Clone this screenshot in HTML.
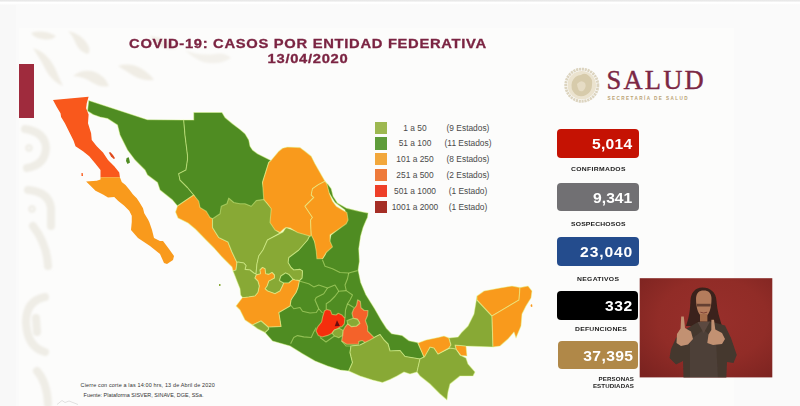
<!DOCTYPE html>
<html lang="es"><head><meta charset="utf-8"><title>COVID-19: Casos por entidad federativa</title>
<style>
html,body{margin:0;padding:0}
body{width:800px;height:406px;overflow:hidden;background:#f8f8f8;position:relative;font-family:"Liberation Sans",sans-serif}
.topband{position:absolute;left:0;top:0;width:800px;height:5px;background:linear-gradient(#e6e6e6 0,#ececec 1.2px,#ffffff 2.2px,#ffffff 3.2px,#f9f9f9 5px)}
.page{position:absolute;left:16px;top:0;width:784px;height:406px;background:#fafafa}
.slide{position:absolute;left:19px;top:28px;width:715px;height:378px;background:#fcfcfb}
.bar{position:absolute;left:19px;top:64px;width:15px;height:54px;background:#9f2b3d}
.title{position:absolute;left:100px;top:36.5px;width:416px;text-align:center;color:#7b2442;font-weight:bold;font-size:12.5px;line-height:15.7px;letter-spacing:0.59px;white-space:nowrap;transform:scaleX(1.18);transform-origin:208px 0;-webkit-text-stroke:0.3px #7b2442}
.sw{position:absolute;left:375px;width:12.2px;height:12.2px}
.lt{position:absolute;font-size:8.4px;line-height:12px;color:#4a4a4a;white-space:nowrap}
.foot{position:absolute;font-size:5.45px;line-height:7px;color:#333;white-space:nowrap}
.box{position:absolute;left:556.6px;width:82.8px;height:28.4px;border-radius:4px;color:#fff;font-weight:bold;font-size:14.5px;line-height:30.4px;text-align:right;box-sizing:border-box;padding-right:7px;letter-spacing:0.55px}
.box span{display:inline-block;transform:scaleX(1.08);transform-origin:100% 50%}
.lab{transform:scaleX(1.1);transform-origin:0 0;position:absolute;font-weight:bold;font-size:6.2px;line-height:7px;color:#222;white-space:nowrap;letter-spacing:0.2px}
.salud{position:absolute;left:606.5px;top:65.2px;font-family:"Liberation Serif",serif;font-size:26.5px;line-height:30px;color:#7b2744;letter-spacing:2.2px;white-space:nowrap;-webkit-text-stroke:0.4px #7b2744}
.sec{position:absolute;left:607.5px;top:94.8px;font-size:4.6px;line-height:7px;font-weight:bold;color:#b9a273;letter-spacing:1.44px;white-space:nowrap}
svg{position:absolute;left:0;top:0}
</style></head><body>
<div class="page"></div>
<div class="topband"></div>
<div class="slide"></div>
<svg width="800" height="406" viewBox="0 0 800 406">
<defs><filter id="wb" x="-20%" y="-20%" width="140%" height="140%"><feGaussianBlur stdDeviation="0.8"/></filter><filter id="mb" x="-2%" y="-2%" width="104%" height="104%"><feGaussianBlur stdDeviation="0.35"/></filter></defs>
<g id="wm" fill="none" stroke="#efede6" stroke-width="8" stroke-linecap="round" stroke-linejoin="round" filter="url(#wb)">
<path d="M25,129 Q45,132 46,148 Q45,165 27,168"/><circle cx="29" cy="148" r="1.2" stroke-width="5"/>
<path d="M28,190 Q49,192 51,208 L51,226"/><circle cx="32" cy="209" r="1.2" stroke-width="5"/>
<path d="M33,226 Q47,244 48,266"/>
<path d="M45,297 Q26,301 26,322 Q27,347 45,352"/><path d="M36,318 L37,332" stroke-width="8"/>
<path d="M37,371 Q47,382 48,404"/>
</g>
<g fill="#f0ede5" stroke="none" filter="url(#wb)">
<path d="M31,33 q12,-4 25,3 q-4,5 -14,3 q-8,-1 -11,-6z"/>
<path d="M68,31 q14,3 20,14 q3,6 0,9 q-8,-2 -12,-10 q-3,-8 -8,-13z"/>
<path d="M33,48 q14,4 22,20 q5,12 8,18 q-10,-4 -16,-14 q-6,-12 -14,-24z"/>
<path d="M73,76 q10,-8 22,-4 q10,4 14,14 q-8,2 -16,-3 q-8,-6 -20,-7z"/>
<path d="M118,66 q12,-4 24,3 q8,5 12,11 q-12,1 -20,-4 q-8,-5 -16,-10z"/>
<path d="M150,36 q16,2 28,12 q-10,3 -18,-2 q-6,-4 -10,-10z"/>
<path d="M185,50 q14,6 30,4 q10,-2 16,4 q-12,8 -28,4 q-10,-4 -18,-12z" opacity="0.7"/>
</g>
<path d="M57,404.5 L62,400.5 L65,402.5 L69,401 L78,404.5" fill="none" stroke="#c4c4c4" stroke-width="0.5"/>
<g filter="url(#mb)">
<polygon points="325,181.5 326.9,183.5 328.1,184.4 331.25,188.75 333.1,196.25 337.5,203.1 346.25,208.1 356.25,210.6 362.5,211.9 368.1,213.1 367.5,217.5 366.25,220 363.1,227.5 360.6,236.25 358.75,248.75 359.4,261.25 358.1,270 360.7,282.6 365.9,294.7 374.5,308.4 381.4,320.5 386.6,328.6 391.7,333.8 402.1,335.5 409,340.7 417.6,342.6 421,350 424,357 420,359 405,356.5 400,350.5 390,351 388,344 384,340 380,334.5 376,336.5 370,340 365,342.5 360,345 351,346 350,352.5 352.5,362.5 348.75,371 340,370 327.5,366 315,361 302.5,353.75 290,346 272.5,341 265,332.5 268.75,328.75 268,327 281,326.5 278.75,312.5 290,306 291,300 292.5,297.5 296,292.5 298,287.5 299.4,280.6 302,278 302.5,271 300,269.4 293.75,270 291,267.5 288,262.5 288.75,257.5 293.75,253.75 298.75,250 307.5,240 310,235 312.5,235 316,245 318.75,256 322.5,258.75 325,255 328.75,245 331,235 340,227.5 346,220 345,210 335,202.5 328.75,192.5" fill="#4F8C20" stroke="rgba(228,255,150,0.45)" stroke-width="1.1" stroke-linejoin="round"/>
<polygon points="88.75,100.5 147.5,119.7 183.75,120 185,135 187.5,155 187.5,160 186,170 178.75,173.75 180,180 187.5,187.5 193.75,195 177.5,206 172.5,200 160,190 157.5,182.5 147.5,175 145,170 135,160 127.5,150 120,135 117.5,125 107.5,118.5 100,117 93,114.5 87.5,111" fill="#4F8C20" stroke="rgba(228,255,150,0.45)" stroke-width="1.1" stroke-linejoin="round"/>
<polygon points="183.75,120 193.75,120 193.75,112.5 222,112.5 225,117.5 232.5,123.75 240,129.4 245,133.75 248.75,140 250,146.25 252.5,150 257.5,153.75 271,160.5 268.75,162.5 262.5,182.5 266,200 266,206 258,207 250,210 240,210 233,208 228,206 222,213 214,221 207,216 200,208 193.75,195 187.5,187.5 180,180 178.75,173.75 186,170 187.5,160 187.5,155 185,135" fill="#4F8C20" stroke="rgba(228,255,150,0.45)" stroke-width="1.1" stroke-linejoin="round"/>
<polygon points="53,100 88.6,96.75 86.75,103.25 86.1,108.25 88.6,114.5 88,123.25 91.1,133.25 91.75,140 96.75,146.25 103,152.5 108,160 114.25,166.25 119.25,172.5 119.9,177.25 100.5,177.25 100.5,170 95.5,163.75 89.25,156.25 83,151.25 75.5,146.25 73.6,140.75 70.5,134.5 68,129.5 64.9,123.25 61.1,117 60.5,113.25 56.75,107" fill="#F9581A" stroke="none" stroke-width="1.1" stroke-linejoin="round"/>
<polygon points="108.8,152.5 110.5,152.3 113,155 115,158.3 113.8,159 111,156.5" fill="#E0481A" stroke="none" stroke-width="1.1" stroke-linejoin="round"/>
<polygon points="81.5,173 82.7,173 83,176 81.5,176" fill="#F9581A" stroke="none" stroke-width="1.1" stroke-linejoin="round"/>
<polygon points="126.6,158 128.8,157.2 130,162.5 127.5,164 126,161" fill="#4F8C20" stroke="none" stroke-width="1.1" stroke-linejoin="round"/>
<polygon points="100.5,177.25 119.9,177.25 121.75,182 125.5,185.1 129.25,189.5 133,194.5 136.75,198.25 139.25,202 143,208.25 144.25,213.25 148,219.5 149.25,222 152,230 154,238 160,241 163,241 169,249 174,256 173,260 167,264 164,263 160,254 150,246 138,238 131,230 131.75,222 131.75,215.75 129.25,210.75 124.25,205.75 118,200.75 114.25,197 108,197.6 103,194.5 95.5,190.75 90.5,185.75 86.1,181.4 96.75,180.75 100.5,179.5" fill="#F99A1B" stroke="none" stroke-width="1.1" stroke-linejoin="round"/>
<polygon points="177.5,206 193.75,195 198.75,201.25 200,207.5 206.25,211.25 210,217.5 212.5,218.75 212.5,227.5 218.75,237.5 228,242 232,252 237,262.5 236,270 233,271 232,267 222,257 214,248 204.5,238.5 195.5,229.25 188,223 178,218 175.5,212" fill="#F99A1B" stroke="rgba(228,255,150,0.45)" stroke-width="1.1" stroke-linejoin="round"/>
<polygon points="228.75,198.1 233.75,202.5 240,203.75 245,203.75 251.25,206.25 256.25,200.6 263.75,199.4 267.5,203.75 272,208.75 271,222.5 276,230 280,233 283.75,231 267.5,240 263,250 258.75,256 257,263.75 256,274 253.75,273 250,270 245,269.4 246,265.6 243.75,263 238,262 237,262.5 232,252 228,242 218.75,237.5 212.5,227.5 212.5,218.75 220,213.75 221.25,206.25 226.9,203.75" fill="#88A936" stroke="rgba(228,255,150,0.45)" stroke-width="1.1" stroke-linejoin="round"/>
<polygon points="283,232 286,227.5 300,232.5 310,235 307.5,240 298.75,250 293.75,253.75 288.75,257.5 288,262.5 291,267.5 293.75,270 300,269.4 302.5,271 302,278 299.4,280.6 295,280 293,279.4 288.75,274.4 285.6,273 281,276 279.4,280.6 283.75,283 282.5,286 280,291 275,293.75 267.5,291 265,288.75 267,286 268.75,281 274.4,278 274.4,275 272,272.5 268.75,274.4 265.6,273.75 265,268.75 262.5,267.5 260,270 260.6,273.75 256.25,275 256,274 257,263.75 258.75,256 263,250 267.5,240" fill="#88A936" stroke="rgba(228,255,150,0.45)" stroke-width="1.1" stroke-linejoin="round"/>
<polygon points="279.4,280.6 281,276 285.6,273 288.75,274.4 293,279.4 288.75,283 283.75,283" fill="#4F8C20" stroke="rgba(228,255,150,0.45)" stroke-width="1.1" stroke-linejoin="round"/>
<polygon points="271,160.5 278.75,151.25 282.5,148.3 287.5,147 300,147.6 305,151.25 311.25,156.25 315,163.75 320,172.5 325,181.25 318.75,184.4 312.5,188.75 311.25,195 313.75,197.5 305,206.25 312.5,217.5 310.6,220 311.25,235 310.6,236.25 297.5,232.5 290,228 286,227.5 283.75,229 280,232.5 275,230 270,222.5 271.25,208.75 267.5,203.75 263.75,199.4 262.5,182.5 268.75,162.5" fill="#F99A1B" stroke="rgba(228,255,150,0.45)" stroke-width="1.1" stroke-linejoin="round"/>
<polygon points="325,181.25 326.9,184 329.4,193.75 332.5,201.25 336.25,206.25 342.5,210 346.9,212.5 348.1,220 346.25,223.75 337.5,230 330,235 330,241.25 332.5,246.9 326.25,252.5 322.5,258.75 316.9,258.75 316.25,251.25 314.4,241.25 311.25,235 310.6,220 312.5,217.5 305,206.25 313.75,197.5 311.25,195 312.5,188.75 318.75,184.4" fill="#F99A1B" stroke="rgba(228,255,150,0.45)" stroke-width="1.1" stroke-linejoin="round"/>
<polygon points="233,271 236,270 237,262.5 238,262 243.75,263 246,265.6 245,269.4 250,270 253.75,273 256,274 256.25,275 255,278 258,281 259.4,286 258,292.5 255,296 248.75,297 245,297.5 242.5,297.5 240.6,295 240,288.75 237.5,282.5 235,276" fill="#88A936" stroke="rgba(228,255,150,0.45)" stroke-width="1.1" stroke-linejoin="round"/>
<polygon points="262.5,267.5 265,268.75 265.6,273.75 268.75,274.4 272,272.5 274.4,275 274.4,278 268.75,281 267,286 265,288.75 267.5,291 275,293.75 280,291 282.5,286 283.75,283 288.75,283 293,279.4 295,280 299.4,280.6 298,287.5 296,292.5 292.5,297.5 291,300 290,306 278.75,312.5 281,326.5 268,327 261,321 252.5,325 245,320 240,310 236,306 242.5,297.5 245,297.5 248.75,297 255,296 258,292.5 259.4,286 258,281 255,278 256.25,275 260.6,273.75 260,270" fill="#F99A1B" stroke="rgba(228,255,150,0.45)" stroke-width="1.1" stroke-linejoin="round"/>
<polygon points="252.5,325 261,321 268,327 268.75,329 265,332.5 257.5,328.75" fill="#88A936" stroke="rgba(228,255,150,0.45)" stroke-width="1.1" stroke-linejoin="round"/>
<polygon points="326.6,309.4 330.5,310.5 332,314.4 336,315 338.2,313.3 342,315 344.9,318.3 344.3,323.8 342,326.6 340,327 337.7,328.8 334.4,330 332,333.2 327.7,335.4 322,337 318.3,335.4 316,331 317.8,326.6 321.6,322 322.7,316.6 324.4,311" fill="#F52D0A" stroke="rgba(228,255,150,0.45)" stroke-width="1.1" stroke-linejoin="round"/>
<polygon points="337,320.2 339.9,326 334.7,326.2" fill="#6B0F0A" stroke="none" stroke-width="1.1" stroke-linejoin="round"/>
<polygon points="334.4,330 339.3,328.2 343.2,330.5 342.7,335.4 338.8,337.7 334.4,336 332,333.2" fill="#88A936" stroke="rgba(228,255,150,0.45)" stroke-width="1.1" stroke-linejoin="round"/>
<polygon points="357.6,299.8 360.4,301.5 361,307.8 364.3,310.5 368,310.5 367.6,315.5 365.4,320.5 367.6,326.6 367.6,331 374.2,337.7 372,341 365.4,342.6 362,340.4 358.7,341.5 358.7,344.3 346.5,344.3 341.6,341 342.7,335.4 343.2,330.5 345.4,326.6 347.7,323.8 351.5,326.6 356.5,326 359.8,323.3 357.6,319.4 353.2,318.3 352,313.3 353.7,308.9 356.5,305.5" fill="#F4622A" stroke="rgba(228,255,150,0.45)" stroke-width="1.1" stroke-linejoin="round"/>
<polygon points="347,320.5 353.2,318.3 357.6,319.4 359.8,323.3 356.5,326 351.5,326.6 347.7,323.8" fill="#88A936" stroke="rgba(228,255,150,0.45)" stroke-width="1.1" stroke-linejoin="round"/>
<polygon points="351,346 360,345 365,342.5 370,340 376,336.5 380,334.5 384,340 388,344 390,351 400,350.5 405,356.5 420,359 417,372 410,374 404,372 397,376 390,379.5 382.5,382.5 372.5,380 360,376 348.75,371 352.5,362.5 350,352.5" fill="#88A936" stroke="rgba(228,255,150,0.45)" stroke-width="1.1" stroke-linejoin="round"/>
<polygon points="420,359 424,357 430,347 434,348 438,354 450,348 456,349 460,355 466,358 468,364 475,372 473,376 460,376 450,384 448,392 447,400 440,394 430,384 420,376 417,372" fill="#88A936" stroke="rgba(228,255,150,0.45)" stroke-width="1.1" stroke-linejoin="round"/>
<polygon points="418,343 426,340 438,337.5 444,336 449,338 451,345 449,348 438,354 434,348 430,347 425,356 424,357 421,350" fill="#F99A1B" stroke="rgba(228,255,150,0.45)" stroke-width="1.1" stroke-linejoin="round"/>
<polygon points="455,345 466,346 467,356 461,355.5 456,349" fill="#F99A1B" stroke="rgba(228,255,150,0.45)" stroke-width="1.1" stroke-linejoin="round"/>
<polygon points="477,296 477,300 492,316 493,347 466,346 455,345 456,349 450,348 449,348 451,345 449,338 458,337 462,332 468,326 474,314" fill="#88A936" stroke="rgba(228,255,150,0.45)" stroke-width="1.1" stroke-linejoin="round"/>
<polygon points="477,296 484,291 500,288 512,286 520,287.6 519,300 492,316 477,300" fill="#F99A1B" stroke="rgba(228,255,150,0.45)" stroke-width="1.1" stroke-linejoin="round"/>
<polygon points="520,287.6 528,286 532,291 531,298 526,306 522,314 521,326 516,338 514,332 508,339 500,346 493,347 492,316 519,300" fill="#F99A1B" stroke="rgba(228,255,150,0.45)" stroke-width="1.1" stroke-linejoin="round"/>
<polygon points="530.5,305 532,304 532.5,306.5 531,307" fill="#F99A1B" stroke="none" stroke-width="1.1" stroke-linejoin="round"/>
<polygon points="219,284 220.5,284 220.5,286 219,286" fill="#88A936" stroke="none" stroke-width="1.1" stroke-linejoin="round"/>
<polyline points="357.5,270.6 348.75,273 340,272.5 332.5,268.75 325,266.25 322.5,260" fill="none" stroke="rgba(228,255,150,0.45)" stroke-width="1.1" stroke-linejoin="round"/>
<polyline points="348.75,273 347.5,278.75 345,285 346.25,290.6" fill="none" stroke="rgba(228,255,150,0.45)" stroke-width="1.1" stroke-linejoin="round"/>
<polyline points="300,281.25 308.75,283.75 313.75,286.9 318.75,285 327.5,288 335,285 338.75,291.25 346.25,290.6" fill="none" stroke="rgba(228,255,150,0.45)" stroke-width="1.1" stroke-linejoin="round"/>
<polyline points="327.5,288 323.75,293.75 316.25,297.5 315,300 318.75,308.75 322.5,313" fill="none" stroke="rgba(228,255,150,0.45)" stroke-width="1.1" stroke-linejoin="round"/>
<polyline points="338.75,291.25 335,296.25 330,301.25 326.25,303.75 326.25,309" fill="none" stroke="rgba(228,255,150,0.45)" stroke-width="1.1" stroke-linejoin="round"/>
<polyline points="346.25,290.6 352.5,295 350,300 347.5,303.75 353.75,307.5" fill="none" stroke="rgba(228,255,150,0.45)" stroke-width="1.1" stroke-linejoin="round"/>
<polyline points="290.6,305 293.75,308.75 300,307.5 302.5,311.25 310,313 316.25,312.5 318.75,308.75" fill="none" stroke="rgba(228,255,150,0.45)" stroke-width="1.1" stroke-linejoin="round"/>
<polyline points="290.6,343.75 293.75,337.5 297.5,335.6 303.75,336.9 311.25,337.5 313.75,331.9 316.25,327.5" fill="none" stroke="rgba(228,255,150,0.45)" stroke-width="1.1" stroke-linejoin="round"/>
<polyline points="320,337.5 326,342 334.4,336" fill="none" stroke="rgba(228,255,150,0.45)" stroke-width="1.1" stroke-linejoin="round"/>
<polyline points="341.6,341 346,346 351,346" fill="none" stroke="rgba(228,255,150,0.45)" stroke-width="1.1" stroke-linejoin="round"/>
<polyline points="347.5,303.75 345.5,310 345,318" fill="none" stroke="rgba(228,255,150,0.45)" stroke-width="1.1" stroke-linejoin="round"/>
</g>
</svg>
<div class="bar"></div>
<div class="title">COVID-19: CASOS POR ENTIDAD FEDERATIVA<br>13/04/2020</div>
<div class="sw" style="top:121.50px;background:#9DB850"></div><div class="lt" style="top:121.60px;left:385px;width:60px;text-align:center">1 a 50</div><div class="lt" style="top:121.60px;left:440px;width:56px;text-align:center">(9 Estados)</div><div class="sw" style="top:137.32px;background:#5E9C3A"></div><div class="lt" style="top:137.42px;left:385px;width:60px;text-align:center">51 a 100</div><div class="lt" style="top:137.42px;left:440px;width:56px;text-align:center">(11 Estados)</div><div class="sw" style="top:153.14px;background:#F2A73B"></div><div class="lt" style="top:153.24px;left:385px;width:60px;text-align:center">101 a 250</div><div class="lt" style="top:153.24px;left:440px;width:56px;text-align:center">(8 Estados)</div><div class="sw" style="top:168.96px;background:#EE7A3A"></div><div class="lt" style="top:169.06px;left:385px;width:60px;text-align:center">251 a 500</div><div class="lt" style="top:169.06px;left:440px;width:56px;text-align:center">(2 Estados)</div><div class="sw" style="top:184.78px;background:#EE3F28"></div><div class="lt" style="top:184.88px;left:385px;width:60px;text-align:center">501 a 1000</div><div class="lt" style="top:184.88px;left:440px;width:56px;text-align:center">(1 Estado)</div><div class="sw" style="top:200.60px;background:#A52E25"></div><div class="lt" style="top:200.70px;left:385px;width:60px;text-align:center">1001 a 2000</div><div class="lt" style="top:200.70px;left:440px;width:56px;text-align:center">(1 Estado)</div>
<div class="foot" style="left:80.6px;top:381.5px;letter-spacing:0.16px">Cierre con corte a las 14:00 hrs, 13 de Abril de 2020</div>
<div class="foot" style="left:83.6px;top:392.3px">Fuente: Plataforma SISVER, SINAVE, DGE, SSa.</div>

<svg width="800" height="406" viewBox="0 0 800 406">
<circle cx="581.8" cy="85.2" r="16.1" fill="none" stroke="#dcd4bf" stroke-width="2.8" stroke-dasharray="2.2 0.7"/>
<circle cx="581.8" cy="85.2" r="14.3" fill="#ebe3cf"/>
<path d="M572,82 q3,-7 9,-7 q4,-3 8,1 q4,3 3,9 q0,7 -6,10 q-6,3 -11,-1 q-5,-5 -3,-12z" fill="#d7cbab"/>
<path d="M577,84 q4,-5 8,-1 q2,4 -2,8 q-5,2 -6,-7z" fill="#e6dcc4"/>
</svg>
<div class="salud">SALUD</div>
<div class="sec">SECRETARÍA DE SALUD</div>

<div class="box" style="top:129.2px;background:#c51203;left:556.6px;width:82.8px;padding-right:6.68px;letter-spacing:0.25px"><span>5,014</span></div>
<div class="lab" style="left:570.8px;top:164.8px;letter-spacing:0.28px">CONFIRMADOS</div>
<div class="box" style="top:183px;background:#717073;left:556.6px;width:82.8px;padding-right:6.95px;letter-spacing:0.0px"><span>9,341</span></div>
<div class="lab" style="left:570.8px;top:219.7px;letter-spacing:0.14px">SOSPECHOSOS</div>
<div class="box" style="top:237.4px;background:#244c8d;left:556.6px;width:82.8px;padding-right:6.09px;letter-spacing:0.8px"><span>23,040</span></div>
<div class="lab" style="left:576.8px;top:274.6px;letter-spacing:0.27px">NEGATIVOS</div>
<div class="box" style="top:291.2px;background:#000;left:556.6px;width:81.4px;padding-right:4.96px;letter-spacing:0.55px"><span>332</span></div>
<div class="lab" style="left:575.4px;top:324.5px;letter-spacing:0.21px">DEFUNCIONES</div>
<div class="box" style="top:341px;background:#b08848;left:557.6px;width:80.4px;padding-right:4.17px;letter-spacing:0.35px"><span>37,395</span></div>
<div class="lab" style="left:583px;top:375.8px;width:51px;text-align:right;line-height:6.9px;letter-spacing:0.1px;font-size:5.6px;transform-origin:100% 0">PERSONAS<br>ESTUDIADAS</div>

<svg width="800" height="406" viewBox="0 0 800 406">
<defs><radialGradient id="vg" cx="55%" cy="42%" r="75%"><stop offset="0" stop-color="#982f2b"/><stop offset="0.55" stop-color="#912c27"/><stop offset="1" stop-color="#7b2320"/></radialGradient>
<filter id="bl" x="-10%" y="-10%" width="120%" height="120%"><feGaussianBlur stdDeviation="0.6"/></filter><clipPath id="vc"><rect x="639.7" y="278.2" width="132.6" height="99.2"/></clipPath></defs>
<rect x="639.7" y="278.2" width="132.6" height="99.2" fill="url(#vg)"/>
<g clip-path="url(#vc)"><g filter="url(#bl)">
<path d="M702.5,287.5 C695,287.5 691,293 690.5,300 C690,310 689.5,316 686,326 L722,326 C719.5,318 717,310 716.5,301 C716,292 710,287.5 702.5,287.5 Z" fill="#3a231a"/>
<path d="M683.6,381 L683,361 L676,364.5 L669.5,358 L671,349 L676,338 L686,329 L697,322.5 L711,321.5 L725,325.4 L731,338 L736.8,355 L733.5,363 L727,362 L726.2,381 Z" fill="#45372f"/>
<path d="M690,340 L703.5,330 L716,340 L718,381 L690,381 Z" fill="#4e4038"/>
<path d="M697.5,322 L703.7,333 L710,321.6 Z" fill="#5c4a41"/>
<path d="M696,299 C696,293 699,290.5 703.7,290.5 C708.5,290.5 711.5,293 711.5,299 C711.5,308 709,316.5 703.7,317 C698.5,316.5 696,308 696,299 Z" fill="#b47b5c"/>
<rect x="700" y="314" width="7.4" height="7.5" fill="#a56d4c"/>
<path d="M696.8,303.8 h13.8 v2.7 h-13.8z" fill="#3a2219" opacity="0.65"/>
<path d="M700.3,312.2 q3.4,1.6 6.8,0" stroke="#7a3d30" stroke-width="0.9" fill="none"/>
<path d="M676.5,343 L677,334 L680.6,328.5 L681.2,316.5 L683.8,316.5 L685,328 L691,331.5 L693,339 L688,344.5 L681,346 Z" fill="#c29172"/>
<path d="M707.3,343 L708.5,334.5 L711.3,330 L711.4,319.8 L714,319.8 L715.3,329.5 L722,333 L725,339 L722,344 L713,345 Z" fill="#c29172"/>
</g></g>
</svg>
</body></html>
